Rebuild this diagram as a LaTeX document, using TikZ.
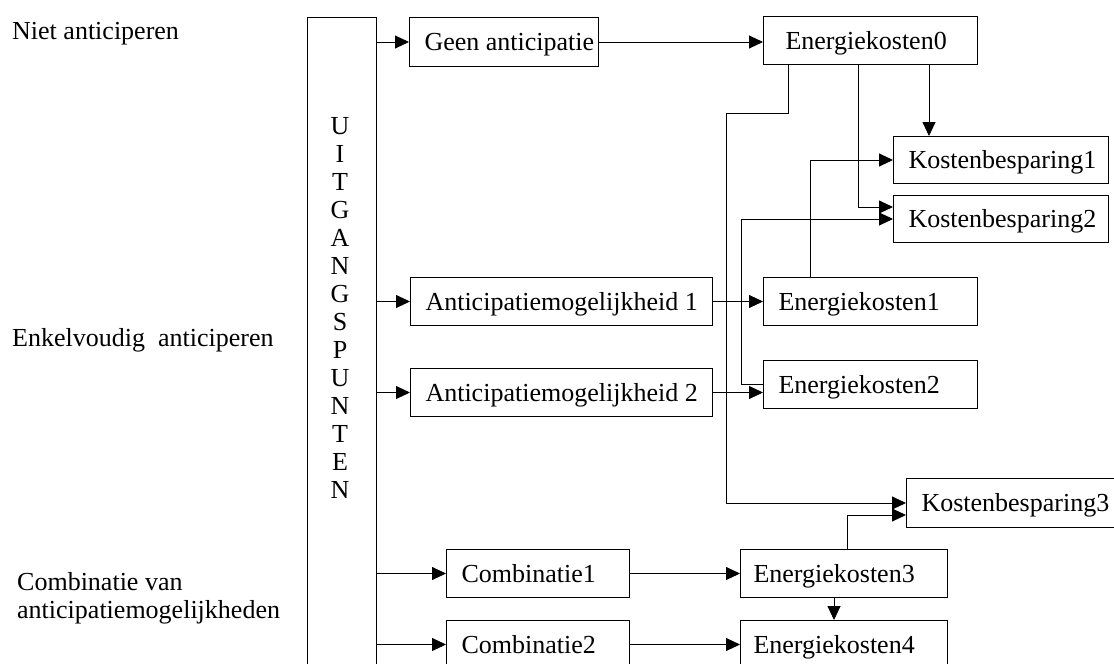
\documentclass[tikz,border=0pt]{standalone}
\usepackage{fontspec}
\setmainfont{Liberation Serif}
\usetikzlibrary{arrows.meta,calc}
\newcommand\LBx[2]{\makebox[#1][l]{#2}}
\begin{document}
\begin{tikzpicture}[x=1pt,y=-1pt,
  every node/.style={font=\fontsize{26}{28}\selectfont},
  box/.style={draw, line width=1pt, rectangle, anchor=north west, inner xsep=15pt, inner ysep=0pt, text height=22pt, text depth=5pt},
  arr/.style={line width=0.9pt, -{Triangle[length=14pt,width=13pt]}},
  lbl/.style={inner sep=0pt, anchor=base west, align=left}]
\useasboundingbox[fill=white] (0,0) rectangle (1114,664);

% left labels
\node[lbl] (l1) at (12,39) {Niet anticiperen};
\node[lbl] (l2) at (12,346) {Enkelvoudig\ \ anticiperen};
\node[lbl] (l3) at (17,618) {Combinatie van\\anticipatiemogelijkheden};

% uitgangspunten column
\node[draw, line width=1pt, anchor=north west, minimum width=69pt, minimum height=690pt, inner sep=0pt] (uit) at (307,17) {};
\node[inner sep=0pt, align=center] (uitt) at (340,307.5) {U\\I\\T\\G\\A\\N\\G\\S\\P\\U\\N\\T\\E\\N};

% boxes
\node[box, minimum height=49pt] (geen) at (409,17) {\LBx{159pt}{Geen anticipatie}};
\node[box, minimum height=48pt, inner xsep=22pt] (e0) at (763,16) {\LBx{170pt}{Energiekosten0}};
\node[box, minimum height=47pt] (kb1) at (893,136) {\LBx{185pt}{Kostenbesparing1}};
\node[box, minimum height=47pt] (kb2) at (893,195) {\LBx{185pt}{Kostenbesparing2}};
\node[box, minimum height=48pt] (a1) at (410,277) {\LBx{272pt}{Anticipatiemogelijkheid 1}};
\node[box, minimum height=48pt] (e1) at (763,277) {\LBx{184pt}{Energiekosten1}};
\node[box, minimum height=48pt] (e2) at (763,360) {\LBx{184pt}{Energiekosten2}};
\node[box, minimum height=48pt] (a2) at (410,368) {\LBx{272pt}{Anticipatiemogelijkheid 2}};
\node[box, minimum height=49pt] (kb3) at (906,478) {\LBx{200pt}{Kostenbesparing3}};
\node[box, minimum height=48pt] (c1) at (446,549) {\LBx{153pt}{Combinatie1}};
\node[box, minimum height=48pt, inner xsep=13pt] (e3) at (740,549) {\LBx{181pt}{Energiekosten3}};
\node[box, minimum height=48pt] (c2) at (446,620) {\LBx{153pt}{Combinatie2}};
\node[box, minimum height=48pt, inner xsep=13pt] (e4) at (740,620) {\LBx{181pt}{Energiekosten4}};

% connectors from column
\draw[arr] (uit.east |- geen.west) -- (geen.west);
\draw[arr] (uit.east |- a1.west) -- (a1.west);
\draw[arr] (uit.east |- a2.west) -- (a2.west);
\draw[arr] (uit.east |- c1.west) -- (c1.west);
\draw[arr] (uit.east |- c2.west) -- (c2.west);

% horizontal flows
\draw[arr] (geen.east) -- (geen.east -| e0.west);
\draw[arr] (a1.east) -- (a1.east -| e1.west);
\draw[arr] (a2.east) -- (a2.east -| e2.west);
\draw[arr] (c1.east) -- (c1.east -| e3.west);
\draw[arr] (c2.east) -- (c2.east -| e4.west);

% other connectors
\draw[arr] ($(e3.south)+(-10,0)$) -- ($(e4.north)+(-10,0)$);
\draw[arr] ($(e3.north)+(3,0)$) |- ($(kb3.west)+(0,12)$);
\draw[arr] ($(e0.south west)+(25,0)$) -- ++(0,48) -- ++(-62,0) |- (kb3.west);
\draw[arr] ($(e0.south west)+(95,0)$) |- ($(kb2.west)+(0,-12)$);
\coordinate (k1in) at ($(kb1.north west)+(36,0)$);
\draw[arr] (e0.south -| k1in) -- (k1in);
\draw[arr] ($(e1.north west)+(47,0)$) |- (kb1.west);
\draw[arr] (e2.west) -- ++(-22,0) |- (kb2.west);
\end{tikzpicture}
\end{document}
